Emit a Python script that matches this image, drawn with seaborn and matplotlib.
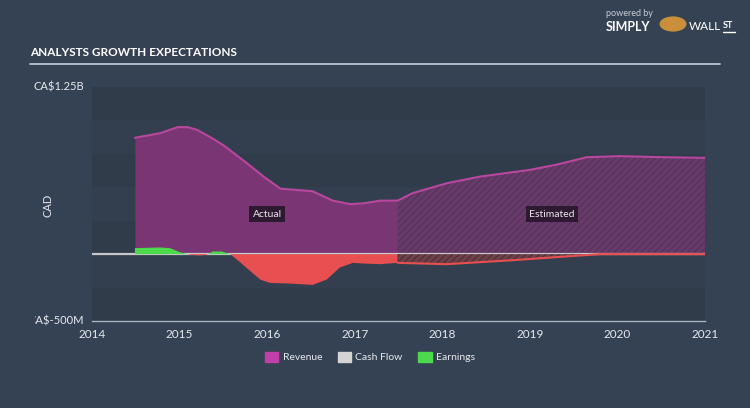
import numpy as np
import pandas as pd
import matplotlib
matplotlib.use("Agg")
import matplotlib.pyplot as plt
import seaborn as sns
from matplotlib.transforms import Bbox, TransformedBbox
from matplotlib.patches import Rectangle

# ---------------- data (CAD billions) ----------------
rev_act_t = [2014.49, 2014.78, 2014.98, 2015.09, 2015.20, 2015.35, 2015.50, 2015.77, 2015.96,
             2016.15, 2016.52, 2016.75, 2016.95, 2017.10, 2017.29, 2017.49]
rev_act_v = [0.87, 0.905, 0.95, 0.95, 0.93, 0.875, 0.815, 0.68, 0.58,
             0.49, 0.47, 0.40, 0.374, 0.38, 0.40, 0.40]

rev_est_t = [2017.49, 2017.66, 2018.05, 2018.43, 2019.00, 2019.31, 2019.65, 2020.03, 2020.52, 2021.00]
rev_est_v = [0.40, 0.456, 0.53, 0.58, 0.63, 0.67, 0.725, 0.733, 0.725, 0.72]

earn_act_t = [2014.49, 2014.78, 2014.89, 2015.00, 2015.12, 2015.23, 2015.31, 2015.38, 2015.48,
              2015.58, 2015.69, 2015.92, 2016.03, 2016.26, 2016.52, 2016.68, 2016.83, 2016.98,
              2017.09, 2017.29, 2017.49]
earn_act_v = [0.045, 0.05, 0.045, 0.015, -0.005, -0.01, -0.005, 0.02, 0.02,
              0.0, -0.06, -0.19, -0.215, -0.22, -0.23, -0.19, -0.10, -0.065,
              -0.07, -0.075, -0.065]

earn_est_t = [2017.49, 2018.05, 2018.81, 2019.57, 2019.80, 2019.97, 2020.08, 2021.00]
earn_est_v = [-0.065, -0.075, -0.045, -0.01, 0.0, 0.01, 0.0, 0.0]

cash_t = [2014.0, 2021.0]
cash_v = [0.0, 0.0]

x_ticks = [2014, 2015, 2016, 2017, 2018, 2019, 2020, 2021]
y_min, y_max = -0.5, 1.25
legend_labels = ["Revenue", "Cash Flow", "Earnings"]

# ---------------- style ----------------
BG = "#354253"
REV_FILL = "#7a3674"
REV_EST_FILL = "#673b69"
REV_EDGE = "#b8479f"
GREEN = "#4cd94c"
RED = "#e84f50"
GREY = "#c8c8cc"
TXT = "#e6e9ee"
FONT = ["Lato", "DejaVu Sans"]

sns.set_theme(style="dark")
plt.rcParams["font.family"] = FONT
plt.rcParams["hatch.linewidth"] = 0.8

fig = plt.figure(figsize=(7.5, 4.08), dpi=100, facecolor=BG)
ax = fig.add_axes([92/750, 87/408, 613/750, 234/408])
ax.set_facecolor("#313d4c")
ax.set_xlim(2014, 2021)
ax.set_ylim(y_min, y_max)

# background bands
band_edges = np.arange(y_min, y_max + 0.001, 0.25)
for i in range(len(band_edges) - 1):
    c = "#303c4a" if i % 2 == 0 else "#333f4e"
    ax.axhspan(band_edges[i], band_edges[i + 1], color=c, lw=0, zorder=0)

ra = pd.DataFrame({"t": rev_act_t, "v": rev_act_v})
re_ = pd.DataFrame({"t": rev_est_t, "v": rev_est_v})
ea = pd.DataFrame({"t": earn_act_t, "v": earn_act_v})
ee = pd.DataFrame({"t": earn_est_t, "v": earn_est_v})
cf = pd.DataFrame({"t": cash_t, "v": cash_v})

# revenue actual
ax.fill_between(ra.t, 0, ra.v, color=REV_FILL, lw=0, zorder=2)
sns.lineplot(data=ra, x="t", y="v", ax=ax, color=REV_EDGE, lw=1.5, zorder=3)
# revenue estimated (hatched)
ax.fill_between(re_.t, 0, re_.v, facecolor=REV_EST_FILL, edgecolor="#55315b",
                hatch="/////", lw=0, zorder=2)
sns.lineplot(data=re_, x="t", y="v", ax=ax, color=REV_EDGE, lw=1.5, zorder=3)

# cash flow baseline
sns.lineplot(data=cf, x="t", y="v", ax=ax, color=GREY, lw=1.6, zorder=4)

# earnings actual
ax.fill_between(ea.t, 0, ea.v, where=ea.v >= 0, interpolate=True, color=GREEN, lw=0, zorder=5)
ax.fill_between(ea.t, 0, ea.v, where=ea.v <= 0, interpolate=True, color=RED, lw=0, zorder=5)
# earnings estimated
ax.fill_between(ee.t, 0, ee.v, where=ee.v <= 0, interpolate=True, facecolor="#6e4048",
                edgecolor="#4c2e3a", hatch="/////", lw=0, zorder=5)
ax.fill_between(ee.t, 0, ee.v, where=ee.v >= 0, interpolate=True, color=GREEN, lw=0, zorder=5)
sns.lineplot(x=ee.t[ee.v <= 0.001], y=ee.v[ee.v <= 0.001], ax=ax, color=RED, lw=1.5, zorder=6)

# labels Actual / Estimated
ax.text(2016.0, 0.30, "Actual", color="#ece4ee", fontsize=7.5, ha="center", va="center", zorder=8,
        bbox=dict(boxstyle="square,pad=0.3", fc="#2d1a30", ec="none"))
ax.text(2019.25, 0.30, "Estimated", color="#ece4ee", fontsize=7.5, ha="center", va="center", zorder=8,
        bbox=dict(boxstyle="square,pad=0.3", fc="#2d1a30", ec="none"))

# axes styling
for s in ["top", "right", "left"]:
    ax.spines[s].set_visible(False)
ax.spines["bottom"].set_color("#aab4c0")
ax.spines["bottom"].set_linewidth(1.0)
ax.set_xticks(x_ticks)
ax.set_xticklabels([str(x) for x in x_ticks])
ax.tick_params(axis="x", colors="#aab4c0", labelcolor=TXT, length=5, width=1, direction="out",
               labelsize=8.5, pad=1)
ax.set_yticks([])
ax.set_xlabel("")
ax.set_ylabel("")
ax.grid(False)
if ax.get_legend():
    ax.get_legend().remove()

# y labels
fig.text(84/750, 1 - 87/408, "CA$1.25B", color=TXT, fontsize=8, ha="right", va="center")
t = fig.text(84/750, 1 - 321/408, "CA$-500M", color=TXT, fontsize=8, ha="right", va="center")
t.set_clip_box(TransformedBbox(Bbox([[35/750, 0], [1, 1]]), fig.transFigure))
t.set_clip_on(True)
fig.text(48/750, 1 - 205/408, "CAD", color=TXT, fontsize=8, rotation=90, ha="center", va="center")

# title + underline
fig.text(30/750, 1 - 53/408, "ANALYSTS GROWTH EXPECTATIONS", color="white", fontsize=8.5,
         fontweight="bold", family=["Lato", "DejaVu Sans"], ha="left", va="center")
fig.add_artist(plt.Line2D([30/750, 720/750], [1 - 64/408, 1 - 64/408], color="#b9c4d0", lw=1.3))

# logo
fig.text(606/750, 1 - 13/408, "powered by", color="#c8ced6", fontsize=6.5, ha="left", va="center")
fig.text(606/750, 1 - 27/408, "SIMPLY", color="white", fontsize=9, fontweight="bold", ha="left", va="center")
fig.add_artist(plt.Circle((673/750, 1 - 24/408), 0.017, color="#c98f3a", transform=fig.transFigure))
fig.text(689/750, 1 - 27/408, "WALL", color="white", fontsize=8.5, ha="left", va="center")
fig.text(723/750, 1 - 25/408, "ST", color="white", fontsize=6.5, fontweight="bold", ha="left", va="center")
fig.add_artist(plt.Line2D([723/750, 735/750], [1 - 32/408, 1 - 32/408], color="white", lw=1))

# legend
handles = [Rectangle((0, 0), 1, 1, color=c) for c in ["#c03fa8", "#d4d4d4", GREEN]]
fig.legend(handles, legend_labels, loc="center", bbox_to_anchor=(370/750, 1 - 357/408), ncol=3,
           frameon=False, fontsize=7.5, labelcolor=TXT, handlelength=1.3, handleheight=1.1,
           columnspacing=1.5, handletextpad=0.4)

fig.savefig("out.png", dpi=100, facecolor=BG)
